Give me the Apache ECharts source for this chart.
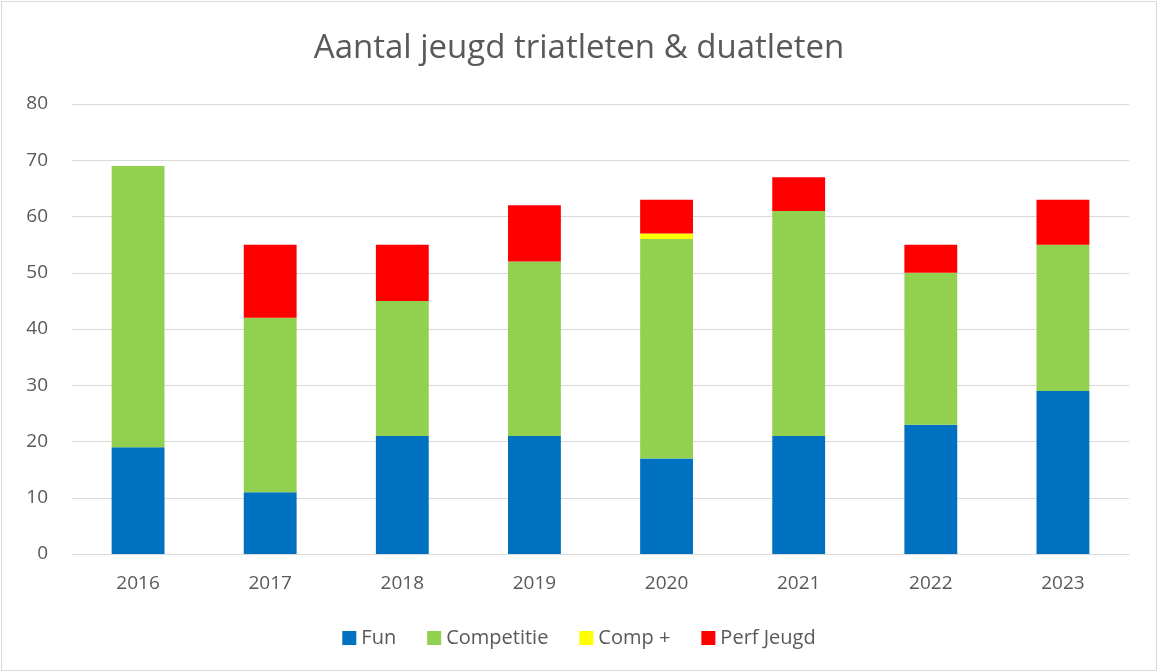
<!DOCTYPE html>
<html>
<head>
    <meta charset="utf-8" />
    <title>Aantal jeugd triatleten & duatleten</title>
    <style type="text/css">
        html, body {
            margin: 0;
            padding: 0;
            background: #fff;
        }

        #chart {
            position: absolute;
            left: 1px;
            top: 1px;
            width: 1154px;
            height: 668px;
            border: 1px solid #d9d9d9;
        }
    </style>
    <script src="https://cdn.jsdelivr.net/npm/echarts@6/dist/echarts.min.js"></script>
</head>
<body>
    <div id="chart"></div>
    <script type="text/javascript">
        // jaren en aantallen per groep
        var years = ['2016', '2017', '2018', '2019', '2020', '2021', '2022', '2023'];
        var fun = [19, 11, 21, 21, 17, 21, 23, 29];
        var competitie = [50, 31, 24, 31, 39, 40, 27, 26];
        var compPlus = [0, 0, 0, 0, 1, 0, 0, 0];
        var perfJeugd = [0, 13, 10, 10, 6, 6, 5, 8];
        var yTicks = { min: 0, max: 80, interval: 10 };

        var font = 'Open Sans';
        var chart = echarts.init(document.getElementById('chart'));

        function bar(name, data, color) {
            return {
                name: name,
                type: 'bar',
                stack: 'totaal',
                data: data,
                barWidth: '40%',
                itemStyle: { color: color },
                emphasis: { disabled: true }
            };
        }

        var option = {
            animation: false,
            title: {
                text: 'Aantal jeugd triatleten & duatleten',
                left: 'center',
                top: 25,
                textStyle: {
                    fontFamily: font,
                    fontSize: 33,
                    fontWeight: 'normal',
                    color: '#595959'
                }
            },
            grid: {
                left: 70,
                right: 27,
                top: 102,
                bottom: 116
            },
            legend: {
                bottom: 17,
                left: 'center',
                itemWidth: 14,
                itemHeight: 14,
                itemGap: 31,
                icon: 'rect',
                textStyle: {
                    fontFamily: font,
                    fontSize: 20,
                    color: '#595959'
                },
                data: ['Fun', 'Competitie', 'Comp +', 'Perf Jeugd']
            },
            xAxis: {
                type: 'category',
                data: years,
                axisLine: { lineStyle: { color: '#d9d9d9' } },
                axisTick: { show: false },
                axisLabel: {
                    fontFamily: font,
                    fontSize: 19,
                    color: '#595959',
                    margin: 20
                }
            },
            yAxis: {
                type: 'value',
                min: yTicks.min,
                max: yTicks.max,
                interval: yTicks.interval,
                axisLine: { show: false },
                axisTick: { show: false },
                splitLine: { lineStyle: { color: '#d9d9d9', width: 1 } },
                axisLabel: {
                    fontFamily: font,
                    fontSize: 19,
                    color: '#595959',
                    margin: 24
                }
            },
            series: [
                bar('Fun', fun, '#0070c0'),
                bar('Competitie', competitie, '#92d050'),
                bar('Comp +', compPlus, '#ffff00'),
                bar('Perf Jeugd', perfJeugd, '#ff0000')
            ]
        };
        chart.setOption(option);
    </script>
</body>
</html>
